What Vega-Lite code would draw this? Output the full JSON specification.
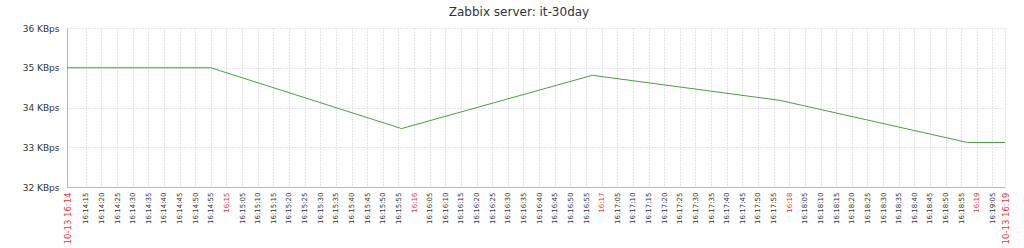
{
  "$schema": "https://vega.github.io/schema/vega-lite/v6.json",
  "autosize": "none",
  "width": 938,
  "height": 159,
  "padding": {"left": 67, "top": 28, "right": 19, "bottom": 61},
  "background": "white",
  "config": {
    "view": {"stroke": null},
    "font": "DejaVu Sans"
  },
  "title": {
    "text": "Zabbix server: it-30day",
    "font": "DejaVu Sans",
    "fontSize": 12,
    "fontWeight": "normal",
    "color": "#333333",
    "anchor": "middle",
    "dx": -17,
    "offset": 5
  },
  "data": {
    "values": [
      {"time": "2023-10-13T16:14:09Z", "kbps": 35.0},
      {"time": "2023-10-13T16:14:55Z", "kbps": 35.0},
      {"time": "2023-10-13T16:15:56Z", "kbps": 33.47},
      {"time": "2023-10-13T16:16:57Z", "kbps": 34.81},
      {"time": "2023-10-13T16:17:57Z", "kbps": 34.18},
      {"time": "2023-10-13T16:18:57Z", "kbps": 33.12},
      {"time": "2023-10-13T16:19:09Z", "kbps": 33.12}
    ]
  },
  "mark": {"type": "line", "color": "#4a9e44", "strokeWidth": 1},
  "encoding": {
    "x": {
      "field": "time",
      "type": "temporal",
      "scale": {"type": "utc", "domain": [1697213649000, 1697213949000], "nice": false},
      "axis": {
        "title": null,
        "values": [1697213649000,1697213655000,1697213660000,1697213665000,1697213670000,1697213675000,1697213680000,1697213685000,1697213690000,1697213695000,1697213700000,1697213705000,1697213710000,1697213715000,1697213720000,1697213725000,1697213730000,1697213735000,1697213740000,1697213745000,1697213750000,1697213755000,1697213760000,1697213765000,1697213770000,1697213775000,1697213780000,1697213785000,1697213790000,1697213795000,1697213800000,1697213805000,1697213810000,1697213815000,1697213820000,1697213825000,1697213830000,1697213835000,1697213840000,1697213845000,1697213850000,1697213855000,1697213860000,1697213865000,1697213870000,1697213875000,1697213880000,1697213885000,1697213890000,1697213895000,1697213900000,1697213905000,1697213910000,1697213915000,1697213920000,1697213925000,1697213930000,1697213935000,1697213940000,1697213945000,1697213949000],
        "labelExpr": "(utcseconds(datum.value) == 9) ? utcFormat(datum.value, '%m-%d %H:%M') : (utcseconds(datum.value) == 0 ? utcFormat(datum.value, '%H:%M') : utcFormat(datum.value, '%H:%M:%S'))",
        "labelAngle": 270,
        "labelFont": "DejaVu Sans",
        "labelFontSize": {"condition": {"test": "utcseconds(datum.value) == 9", "value": 8.5}, "value": 7},
        "labelColor": {"condition": {"test": "utcseconds(datum.value) == 9 || utcseconds(datum.value) == 0", "value": "#ee3333"}, "value": "#333333"},
        "labelPadding": 5,
        "labelOverlap": false,
        "labelFlush": false,
        "labelBound": false,
        "ticks": false,
        "domainColor": "#aeb8c2",
        "domainWidth": 1,
        "grid": true,
        "gridColor": "#c5ccd3",
        "gridDash": [1, 2],
        "gridWidth": 1
      }
    },
    "y": {
      "field": "kbps",
      "type": "quantitative",
      "scale": {"domain": [32, 36], "nice": false, "zero": false},
      "axis": {
        "title": null,
        "values": [32, 33, 34, 35, 36],
        "labelExpr": "datum.value + ' KBps'",
        "labelFont": "DejaVu Sans",
        "labelFontSize": 9,
        "labelColor": "#333333",
        "labelPadding": 8,
        "ticks": false,
        "domainColor": "#aeb8c2",
        "domainWidth": 1,
        "grid": true,
        "gridColor": "#c5ccd3",
        "gridDash": [1, 2],
        "gridWidth": 1
      }
    }
  }
}
